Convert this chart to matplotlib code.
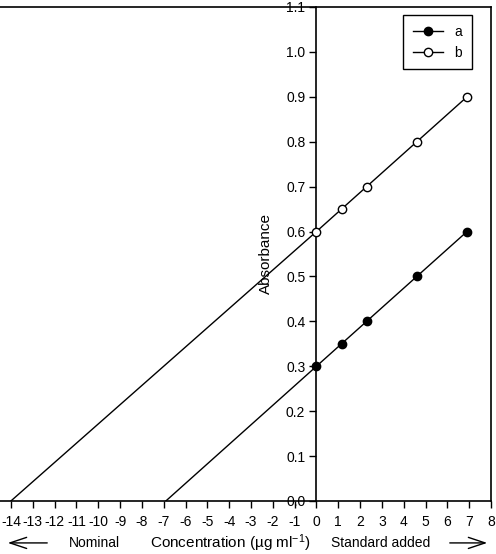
import numpy as np
import matplotlib
matplotlib.use("Agg")
import matplotlib.pyplot as plt
from matplotlib.patches import FancyArrowPatch

plt.rcParams['font.family'] = ['Liberation Sans', 'DejaVu Sans']
plt.rcParams['mathtext.default'] = 'regular'
plt.rcParams['axes.unicode_minus'] = False

# standard added (ug/ml) and absorbance for the two samples
conc = [0, 1.15, 2.3, 4.6, 6.9]
abs_a = [0.30, 0.35, 0.40, 0.50, 0.60]
abs_b = [0.60, 0.65, 0.70, 0.80, 0.90]
# where the extrapolated lines meet zero absorbance
x0_a = -6.9
x0_b = -14.0

xticks = list(range(-14, 9))
yticks = [0.0, 0.1, 0.2, 0.3, 0.4, 0.5, 0.6, 0.7, 0.8, 0.9, 1.0, 1.1]

fig = plt.figure(figsize=(4.96, 5.54), dpi=100)
ax = fig.add_axes([0, 0.0957, 0.99, 0.8917])

# extrapolation back to the x axis
ax.plot([x0_a, conc[0]], [0, abs_a[0]], color='k', lw=1)
ax.plot([x0_b, conc[0]], [0, abs_b[0]], color='k', lw=1)

ax.plot(conc, abs_a, 'o-', color='k', mfc='k', mec='k', ms=6, lw=1, label='a', zorder=3)
ax.plot(conc, abs_b, 'o-', color='k', mfc='white', mec='k', ms=6, mew=1, lw=1, label='b', zorder=3)

ax.set_xlim(-14.5, 8)
ax.set_ylim(0, 1.1)
ax.set_xticks(xticks)
ax.set_yticks(yticks)
ax.set_yticklabels(['%.1f' % v for v in yticks])

ax.spines['left'].set_position(('data', 0))
for s in ax.spines.values():
    s.set_linewidth(1.2)
ax.tick_params(axis='both', direction='out', length=5, width=1, colors='k')
ax.tick_params(axis='x', labelsize=10, pad=5)
ax.tick_params(axis='y', labelsize=10, pad=3)

ax.set_ylabel('Absorbance', fontsize=11)
ax.yaxis.set_label_coords(0.555, 0.5)

leg = ax.legend(loc='upper right', bbox_to_anchor=(0.961, 0.984), fancybox=False,
                edgecolor='k', framealpha=1, fontsize=10, handlelength=2.2,
                borderpad=0.7, labelspacing=0.5, borderaxespad=0)
leg.get_frame().set_linewidth(1)

# labels and arrows under the axis
fig.text(0.19, 0.02, 'Nominal', ha='center', va='center', fontsize=10)
fig.text(0.464, 0.02, 'Concentration (µg ml$^{-1}$)', ha='center', va='center', fontsize=11)
fig.text(0.768, 0.02, 'Standard added', ha='center', va='center', fontsize=10)
style = '->,head_length=1.2,head_width=0.4'
fig.add_artist(FancyArrowPatch((50 / 496, 0.02), (5 / 496, 0.02), transform=fig.transFigure,
                               arrowstyle=style, color='k', lw=1, mutation_scale=10))
fig.add_artist(FancyArrowPatch((447 / 496, 0.02), (490 / 496, 0.02), transform=fig.transFigure,
                               arrowstyle=style, color='k', lw=1, mutation_scale=10))

fig.savefig('out.png', dpi=100)
